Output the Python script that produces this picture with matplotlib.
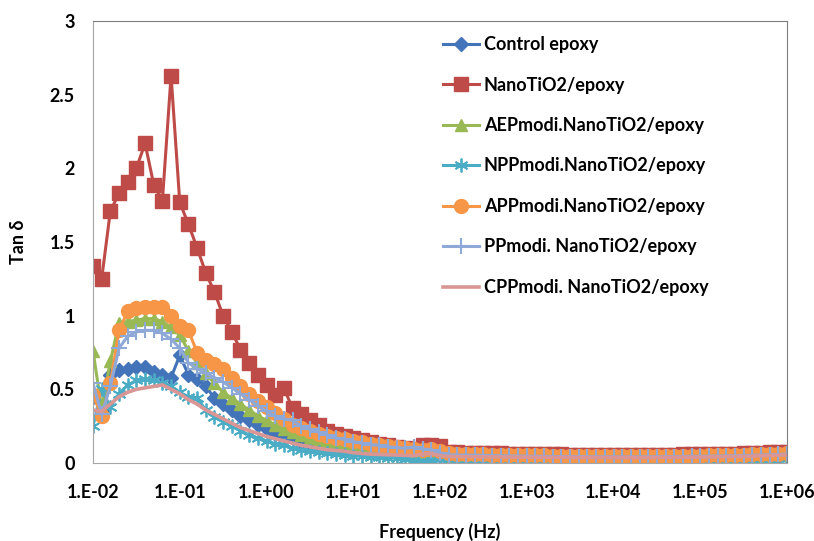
import numpy as np
import matplotlib
matplotlib.use("Agg")
import matplotlib.pyplot as plt
from matplotlib.ticker import FixedLocator, FixedFormatter, NullLocator

plt.rcParams['font.family'] = ['Lato', 'DejaVu Sans']

# measurement grid: 10 points per decade, 1e-2 .. 1e6 Hz
freq = np.logspace(-2, 6, 81)

control = [0.45, 0.35, 0.60, 0.63, 0.64, 0.65, 0.65, 0.62, 0.60, 0.58,
           0.73, 0.60, 0.57, 0.52, 0.44, 0.40, 0.36, 0.32, 0.29, 0.26,
           0.23, 0.20, 0.18, 0.17, 0.145, 0.13, 0.12, 0.11, 0.10, 0.09,
           0.085, 0.08, 0.075, 0.07, 0.065, 0.06, 0.058, 0.056, 0.054, 0.06,
           0.045, 0.036, 0.035, 0.034, 0.034, 0.033, 0.033, 0.032, 0.032, 0.031,
           0.031, 0.030, 0.030, 0.030, 0.029, 0.029, 0.029, 0.028, 0.028, 0.028,
           0.028, 0.028, 0.028, 0.028, 0.029, 0.029, 0.030, 0.030, 0.031, 0.031,
           0.032, 0.033, 0.034, 0.035, 0.036, 0.037, 0.039, 0.040, 0.042, 0.044,
           0.046]
nano = [1.34, 1.25, 1.71, 1.83, 1.91, 2.00, 2.17, 1.89, 1.78, 2.63,
        1.77, 1.62, 1.46, 1.29, 1.16, 1.00, 0.89, 0.77, 0.68, 0.60,
        0.53, 0.46, 0.51, 0.37, 0.33, 0.29, 0.26, 0.22, 0.20, 0.18,
        0.17, 0.155, 0.14, 0.13, 0.12, 0.11, 0.10, 0.095, 0.12, 0.12,
        0.115, 0.075, 0.072, 0.070, 0.068, 0.067, 0.066, 0.065, 0.064, 0.063,
        0.062, 0.061, 0.060, 0.059, 0.058, 0.057, 0.057, 0.056, 0.056, 0.055,
        0.055, 0.055, 0.055, 0.055, 0.056, 0.056, 0.057, 0.057, 0.058, 0.059,
        0.060, 0.061, 0.062, 0.063, 0.064, 0.066, 0.068, 0.070, 0.072, 0.074,
        0.076]
aep = [0.76, 0.37, 0.69, 0.95, 0.96, 0.97, 0.98, 0.98, 0.96, 0.92,
       0.87, 0.76, 0.68, 0.61, 0.54, 0.48, 0.44, 0.40, 0.36, 0.32,
       0.29, 0.26, 0.23, 0.21, 0.19, 0.17, 0.155, 0.14, 0.13, 0.12,
       0.11, 0.10, 0.095, 0.09, 0.085, 0.08, 0.075, 0.072, 0.07, 0.075,
       0.06, 0.048, 0.047, 0.046, 0.045, 0.044, 0.043, 0.042, 0.041, 0.040,
       0.040, 0.039, 0.039, 0.038, 0.038, 0.037, 0.037, 0.036, 0.036, 0.036,
       0.035, 0.035, 0.035, 0.035, 0.036, 0.036, 0.037, 0.037, 0.038, 0.039,
       0.039, 0.040, 0.041, 0.042, 0.043, 0.044, 0.046, 0.048, 0.050, 0.052,
       0.054]
npp = [0.25, 0.50, 0.38, 0.47, 0.53, 0.56, 0.57, 0.56, 0.54, 0.52,
       0.48, 0.45, 0.44, 0.36, 0.31, 0.28, 0.25, 0.22, 0.19, 0.17,
       0.15, 0.13, 0.12, 0.10, 0.09, 0.08, 0.072, 0.065, 0.06, 0.055,
       0.05, 0.046, 0.042, 0.038, 0.036, 0.033, 0.028, 0.02, 0.015, 0.02,
       0.03, 0.024, 0.023, 0.022, 0.022, 0.021, 0.021, 0.020, 0.020, 0.019,
       0.019, 0.019, 0.018, 0.018, 0.018, 0.017, 0.017, 0.017, 0.017, 0.017,
       0.017, 0.017, 0.017, 0.017, 0.018, 0.018, 0.018, 0.019, 0.019, 0.020,
       0.020, 0.021, 0.022, 0.023, 0.024, 0.025, 0.026, 0.028, 0.030, 0.032,
       0.035]
app = [0.46, 0.32, 0.54, 0.90, 1.03, 1.05, 1.06, 1.06, 1.06, 1.00,
       0.93, 0.90, 0.75, 0.70, 0.67, 0.64, 0.58, 0.52, 0.47, 0.42,
       0.38, 0.34, 0.30, 0.26, 0.24, 0.22, 0.20, 0.18, 0.17, 0.16,
       0.15, 0.14, 0.13, 0.12, 0.115, 0.11, 0.10, 0.095, 0.09, 0.095,
       0.08, 0.065, 0.063, 0.061, 0.060, 0.058, 0.057, 0.056, 0.055, 0.054,
       0.053, 0.052, 0.051, 0.050, 0.049, 0.048, 0.048, 0.047, 0.047, 0.046,
       0.046, 0.046, 0.046, 0.046, 0.047, 0.047, 0.048, 0.048, 0.049, 0.050,
       0.050, 0.051, 0.052, 0.053, 0.054, 0.056, 0.058, 0.060, 0.062, 0.064,
       0.066]
pp = [0.54, 0.33, 0.52, 0.78, 0.86, 0.89, 0.90, 0.90, 0.88, 0.84,
      0.78, 0.68, 0.64, 0.61, 0.58, 0.55, 0.51, 0.47, 0.43, 0.39,
      0.35, 0.32, 0.30, 0.29, 0.25, 0.23, 0.21, 0.19, 0.17, 0.16,
      0.145, 0.135, 0.125, 0.12, 0.11, 0.105, 0.10, 0.11, 0.095, 0.09,
      0.07, 0.055, 0.054, 0.053, 0.052, 0.051, 0.050, 0.049, 0.048, 0.047,
      0.046, 0.045, 0.045, 0.044, 0.044, 0.043, 0.043, 0.042, 0.042, 0.042,
      0.041, 0.041, 0.041, 0.041, 0.042, 0.042, 0.043, 0.043, 0.044, 0.045,
      0.045, 0.046, 0.047, 0.048, 0.049, 0.050, 0.052, 0.054, 0.056, 0.058,
      0.060]
cpp = [0.36, 0.35, 0.40, 0.45, 0.48, 0.50, 0.51, 0.52, 0.53, 0.50,
       0.47, 0.43, 0.40, 0.36, 0.33, 0.30, 0.27, 0.24, 0.22, 0.20,
       0.18, 0.165, 0.15, 0.135, 0.12, 0.11, 0.10, 0.09, 0.085, 0.08,
       0.07, 0.065, 0.06, 0.058, 0.056, 0.054, 0.052, 0.05, 0.06, 0.065,
       0.05, 0.045, 0.044, 0.043, 0.043, 0.042, 0.042, 0.041, 0.041, 0.040,
       0.040, 0.039, 0.039, 0.038, 0.038, 0.038, 0.037, 0.037, 0.037, 0.037,
       0.036, 0.036, 0.036, 0.036, 0.037, 0.037, 0.038, 0.038, 0.039, 0.039,
       0.040, 0.041, 0.042, 0.043, 0.044, 0.045, 0.047, 0.049, 0.051, 0.053,
       0.055]

labels = ["Control epoxy", "NanoTiO2/epoxy", "AEPmodi.NanoTiO2/epoxy",
          "NPPmodi.NanoTiO2/epoxy", "APPmodi.NanoTiO2/epoxy",
          "PPmodi. NanoTiO2/epoxy", "CPPmodi. NanoTiO2/epoxy"]
xtick_vals = [1e-2, 1e-1, 1e0, 1e1, 1e2, 1e3, 1e4, 1e5, 1e6]
xtick_labels = ["1.E-02", "1.E-01", "1.E+00", "1.E+01", "1.E+02",
                "1.E+03", "1.E+04", "1.E+05", "1.E+06"]
ytick_vals = [0, 0.5, 1, 1.5, 2, 2.5, 3]
ytick_labels = ["0", "0.5", "1", "1.5", "2", "2.5", "3"]

FS = 13

fig = plt.figure(figsize=(8.14, 5.41), dpi=100)
ax = fig.add_axes([93/814, 78/541, (787-93)/814, (463-21)/541])

series = [control, nano, aep, npp, app, pp, cpp]
styles = [
    dict(color="#4373B8", marker="D", ms=7),
    dict(color="#BE4B48", marker="s", ms=10),
    dict(color="#98B954", marker="^", ms=9),
    dict(color="#4BACC6", marker=(6, 2, 0), ms=10, mew=1.3),
    dict(color="#F79646", marker="o", ms=10),
    dict(color="#8EA9D8", marker="+", ms=11, mew=1.5),
    dict(color="#D99694", marker=None),
]
for vals, lab, st in zip(series, labels, styles):
    kw = dict(st)
    color = kw.pop("color")
    ax.plot(freq, vals, color=color, lw=2.6 if lab.startswith("CPP") else 2.2,
            mfc=color, mec=color, label=lab, **kw)

ax.set_xscale("log")
ax.set_xlim(1e-2, 1e6)
ax.set_ylim(0, 3)
ax.xaxis.set_major_locator(FixedLocator(xtick_vals))
ax.xaxis.set_major_formatter(FixedFormatter(xtick_labels))
ax.xaxis.set_minor_locator(NullLocator())
ax.yaxis.set_major_locator(FixedLocator(ytick_vals))
ax.yaxis.set_major_formatter(FixedFormatter(ytick_labels))
ax.tick_params(axis="both", length=0, labelsize=FS, colors="black")
ax.tick_params(axis="x", pad=15)
ax.tick_params(axis="y", pad=13)
for lbl in ax.get_xticklabels() + ax.get_yticklabels():
    lbl.set_fontweight("bold")
for side in ["left", "bottom"]:
    ax.spines[side].set_color("#A6A6A6")
for side in ["top", "right"]:
    ax.spines[side].set_color("#7F7F7F")

ax.set_xlabel("Frequency (Hz)", fontsize=FS, fontweight="bold", labelpad=16)
ax.set_ylabel("Tan δ", fontsize=FS, fontweight="bold", labelpad=16)

leg = ax.legend(loc="upper left", bbox_to_anchor=(434/814, 1 - 27/541),
                bbox_transform=fig.transFigure, frameon=False,
                fontsize=FS, labelspacing=1.3, handlelength=2.0,
                handletextpad=0.25, borderpad=0)
for t in leg.get_texts():
    t.set_fontweight("bold")

fig.savefig("out.png", dpi=100)
